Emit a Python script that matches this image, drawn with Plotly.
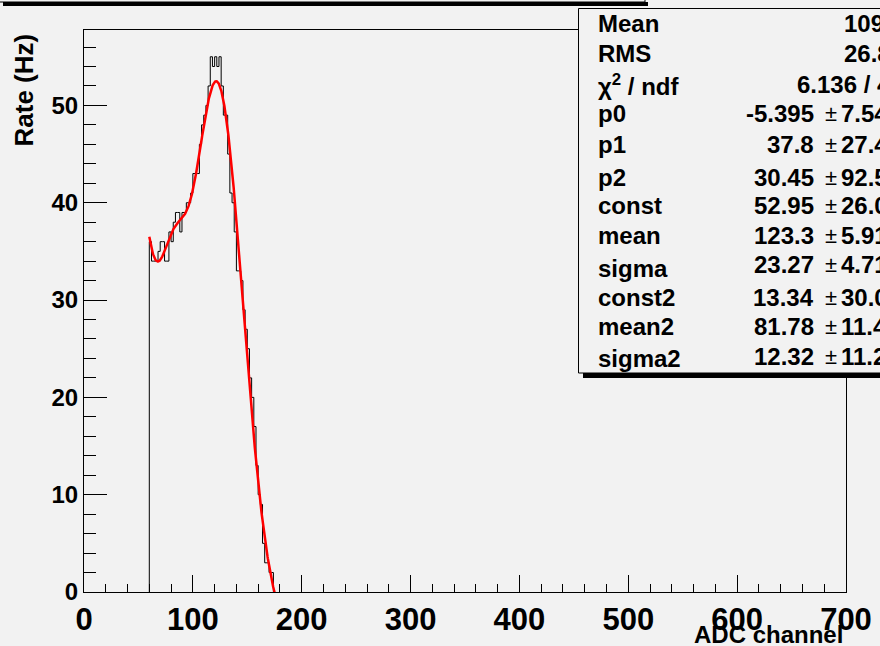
import numpy as np
import plotly.graph_objects as go

# ---- histogram data: ADC channel spectrum, 2-channel bins ----
bin_lo = 60
bin_width = 2
counts = [36, 34, 34, 34, 35, 36, 36, 34, 34, 37,
          36, 38, 39, 39, 37, 39, 39, 40, 40, 41,
          43, 43, 43, 46, 48, 49, 50, 52, 55, 54,
          55, 54, 55, 52, 49, 49, 45, 41, 40, 37,
          33, 33, 32, 29, 27, 25, 22, 20, 17, 13,
          10, 9, 5, 3, 3, 2, 2]

# ---- fit result: exponential background + two gaussians ----
fit_names = ["p0", "p1", "p2", "const", "mean", "sigma", "const2", "mean2", "sigma2"]
fit_values = [-5.395, 37.8, 30.45, 52.95, 123.3, 23.27, 13.34, 81.78, 12.32]
fit_value_text = ["-5.395", "37.8", "30.45", "52.95", "123.3", "23.27", "13.34", "81.78", "12.32"]
fit_error_text = ["7.541", "27.46", "92.55", "26.04", "5.913", "4.718", "30.06", "11.43", "11.25"]
chi2_text = "6.136 / 48"
fit_range = (60, 176)

x_ticks = [0, 100, 200, 300, 400, 500, 600, 700]
y_ticks = [0, 10, 20, 30, 40, 50]

W, H = 880, 646
L, R, T, B = 84, 34, 30, 54
PW, PH = W - L - R, H - T - B

def px(x):
    return (x - L) / PW

def py(y):
    return (H - B - y) / PH

edges = bin_lo + bin_width * np.arange(len(counts) + 1)
centers = edges[:-1] + bin_width / 2
w = np.array(counts, dtype=float)
mean = (w * centers).sum() / w.sum()
rms = np.sqrt((w * (centers - mean) ** 2).sum() / w.sum())

# step outline of the histogram
hx = [edges[0]] + list(edges[:-1]) + [edges[-1], edges[-1]]
hy = [0] + counts + [counts[-1], 0]

p0, p1, p2, c1, m1, s1, c2, m2, s2 = fit_values
fx = np.linspace(fit_range[0], fit_range[1], 600)
fy = (p0 + p1 * np.exp(-(fx - fit_range[0]) / p2)
      + c1 * np.exp(-0.5 * ((fx - m1) / s1) ** 2)
      + c2 * np.exp(-0.5 * ((fx - m2) / s2) ** 2))

BG = "#f2f2f2"
FONT = "Liberation Sans, Arial, sans-serif"

fig = go.Figure()
fig.add_trace(go.Scatter(x=hx, y=hy, mode="lines", line=dict(color="black", width=1, shape="hv"),
                         hoverinfo="skip", showlegend=False))
fig.add_trace(go.Scatter(x=fx, y=fy, mode="lines", line=dict(color="#ff0000", width=2.5),
                         hoverinfo="skip", showlegend=False))

fig.update_layout(
    width=W, height=H,
    margin=dict(l=L, r=R, t=T, b=B, pad=0, autoexpand=False),
    paper_bgcolor=BG, plot_bgcolor=BG,
    showlegend=False,
    font=dict(family=FONT, color="black"),
)
fig.update_xaxes(
    range=[0, 700], tickvals=x_ticks, ticktext=[str(v) for v in x_ticks],
    ticks="inside", ticklen=17, tickwidth=1, tickcolor="black",
    minor=dict(dtick=20, tick0=0, ticks="inside", ticklen=8, tickcolor="black", tickwidth=1),
    showline=True, linecolor="black", linewidth=1, mirror=True,
    showgrid=False, zeroline=False, automargin=False,
    tickfont=dict(family=FONT, size=31, weight="bold", color="black"),
)
fig.update_yaxes(
    range=[0, 57.75], tickvals=y_ticks, ticktext=[str(v) for v in y_ticks],
    ticks="inside", ticklen=23, tickwidth=1, tickcolor="black",
    minor=dict(dtick=2, tick0=0, ticks="inside", ticklen=12, tickcolor="black", tickwidth=1),
    showline=True, linecolor="black", linewidth=1, mirror=True,
    showgrid=False, zeroline=False, automargin=False,
    tickfont=dict(family=FONT, size=24, weight="bold", color="black"),
)

shapes = []
# title pave (mostly above the canvas) with its shadow
shapes.append(dict(type="rect", xref="paper", yref="paper", x0=px(3), x1=px(648), y0=py(2), y1=py(6),
                   fillcolor="black", line=dict(width=0), layer="above"))
shapes.append(dict(type="rect", xref="paper", yref="paper", x0=px(-5), x1=px(645), y0=py(-30), y1=py(2),
                   fillcolor=BG, line=dict(color="black", width=1), layer="above"))
# statistics box with shadow
shapes.append(dict(type="rect", xref="paper", yref="paper", x0=px(583), x1=px(920), y0=py(373), y1=py(378),
                   fillcolor="black", line=dict(width=0), layer="above"))
shapes.append(dict(type="rect", xref="paper", yref="paper", x0=px(578.5), x1=px(915), y0=py(8.5), y1=py(373),
                   fillcolor=BG, line=dict(color="black", width=1), layer="above"))
fig.update_layout(shapes=shapes)

ann = []
def text(x, y, s, xanchor="left", size=24, bold=True, **kw):
    ann.append(dict(xref="paper", yref="paper", x=px(x), y=py(y), text=s, showarrow=False,
                    xanchor=xanchor, yanchor="middle",
                    font=dict(family=FONT, size=size, color="black", weight="bold" if bold else "normal"),
                    **kw))

# axis titles
text(845, 634, "ADC channel", xanchor="right", size=24)
ann.append(dict(xref="paper", yref="paper", x=px(23), y=py(31), text="Rate (Hz)", showarrow=False,
                textangle=-90, xanchor="center", yanchor="top",
                font=dict(family=FONT, size=26, color="black", weight="bold")))

# statistics box contents
label_x = 596
label_y = [23, 53, 85, 114, 145, 177, 205, 235, 268, 297, 326, 359]
value_y = [23, 53, 85, 114, 145, 177, 205, 235, 264, 297, 326, 356]
head_labels = ["Mean", "RMS", "&#967;<sup>2</sup> / ndf"]
head_values = [f"{mean:.4g}", f"{rms:.4g}", chi2_text]
for i, (lab, val) in enumerate(zip(head_labels, head_values)):
    text(label_x, label_y[i], lab)
    text(906, value_y[i], val, xanchor="right")
for j, name in enumerate(fit_names):
    i = j + 3
    text(label_x, label_y[i], name)
    text(816, value_y[i], fit_value_text[j], xanchor="right")
    text(831, value_y[i], "&#177;", xanchor="center", size=22, bold=False)
    text(839, value_y[i], fit_error_text[j], xanchor="left")

fig.update_layout(annotations=ann)
fig.write_html("out.html")
